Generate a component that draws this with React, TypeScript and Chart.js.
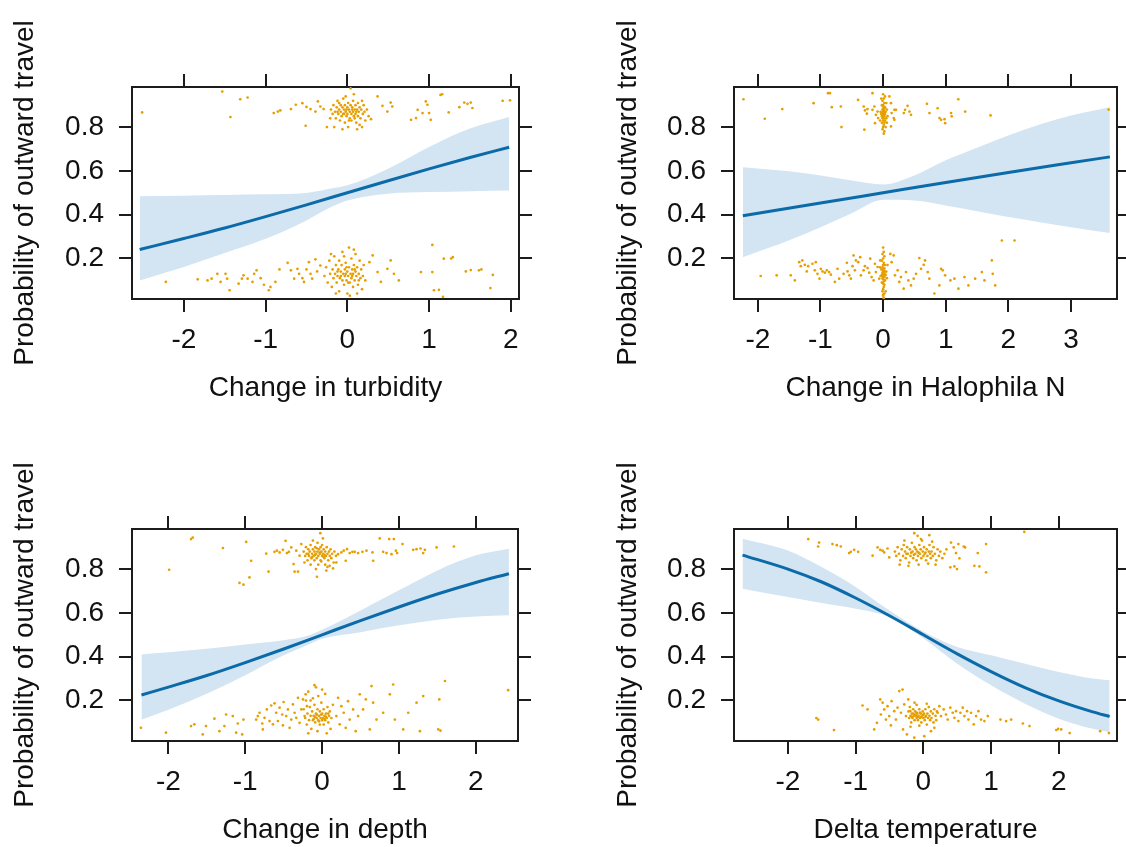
import { useEffect, useRef } from 'react';
import Chart from 'chart.js/auto';

type Pair = [number, number];

// ---------- shared response axis ----------
const Y_TITLE = 'Probability of outward travel';
const Y_TICKS = [0.2, 0.4, 0.6, 0.8];
const Y_MIN = 0.015;
const Y_MAX = 0.983;

// ---------- change in turbidity ----------
const TURB_LABEL = 'Change in turbidity';
const TURB_MIN = -2.634;
const TURB_MAX = 2.1;
const TURB_TICKS = [-2, -1, 0, 1, 2];
const TURB_FIT_X = [-2.54, -2, -1.5, -1, -0.5, 0, 0.5, 1, 1.5, 1.98];
const TURB_FIT_Y = [0.241, 0.291, 0.339, 0.391, 0.445, 0.5, 0.555, 0.609, 0.661, 0.708];
const TURB_BAND_X = [-2.54, -2, -1.5, -1, -0.5, -0.2, 0, 0.5, 1, 1.5, 1.98];
const TURB_BAND_HI = [0.484, 0.487, 0.49, 0.493, 0.499, 0.519, 0.534, 0.61, 0.709, 0.793, 0.846];
const TURB_BAND_LO = [0.1, 0.161, 0.225, 0.29, 0.374, 0.435, 0.465, 0.496, 0.503, 0.507, 0.51];
const TURB_OUT: Pair[] = [
  [-2.51, 0.867], [-1.53, 0.962], [-1.43, 0.846], [-1.31, 0.927], [-1.22, 0.935], [-0.9, 0.864], [-0.85, 0.871],
  [-0.82, 0.876], [-0.69, 0.882], [-0.63, 0.902], [-0.55, 0.909], [-0.51, 0.806], [-0.5, 0.892], [-0.45, 0.882],
  [-0.39, 0.871], [-0.36, 0.917], [-0.33, 0.894], [-0.29, 0.882], [-0.25, 0.8], [0.29, 0.836], [0.37, 0.94],
  [0.43, 0.897], [0.49, 0.871], [0.53, 0.912], [0.55, 0.894], [0.78, 0.833], [0.84, 0.841], [0.86, 0.879],
  [0.92, 0.864], [0.96, 0.917], [0.98, 0.902], [1.0, 0.864], [1.02, 0.833], [1.14, 0.947], [1.16, 0.95],
  [1.24, 0.867], [1.37, 0.891], [1.43, 0.912], [1.47, 0.906], [1.51, 0.912], [1.53, 0.887], [1.9, 0.92], [1.99, 0.922],
  [-0.2, 0.88], [-0.18, 0.86], [-0.17, 0.9], [-0.15, 0.87], [-0.14, 0.84], [-0.13, 0.89], [-0.12, 0.92], [-0.11, 0.86],
  [-0.1, 0.88], [-0.09, 0.83], [-0.08, 0.9], [-0.08, 0.87], [-0.07, 0.85], [-0.06, 0.89], [-0.05, 0.93], [-0.05, 0.86],
  [-0.04, 0.88], [-0.03, 0.82], [-0.03, 0.9], [-0.02, 0.87], [-0.01, 0.85], [0.0, 0.89], [0.0, 0.86], [0.01, 0.91],
  [0.01, 0.8], [0.02, 0.88], [0.03, 0.84], [0.03, 0.87], [0.04, 0.9], [0.04, 0.977], [0.05, 0.86], [0.05, 0.83],
  [0.06, 0.89], [0.07, 0.87], [0.07, 0.92], [0.08, 0.85], [0.09, 0.88], [0.1, 0.9], [0.1, 0.86], [0.11, 0.82],
  [0.12, 0.88], [0.13, 0.91], [0.13, 0.85], [0.14, 0.87], [0.15, 0.89], [0.16, 0.84], [0.17, 0.88], [0.18, 0.8],
  [0.19, 0.86], [0.2, 0.9], [0.21, 0.87], [0.22, 0.83], [0.24, 0.88], [0.26, 0.85], [-0.16, 0.8], [-0.06, 0.79],
  [0.12, 0.79], [0.15, 0.81], [-0.21, 0.84], [-0.02, 0.94], [0.08, 0.95], [-0.1, 0.91], [0.18, 0.92], [0.02, 0.83],
  [-0.12, 0.87], [0.06, 0.88], [-0.04, 0.86], [0.11, 0.87], [-0.01, 0.88], [0.09, 0.84],
];
const TURB_STAY: Pair[] = [
  [-2.22, 0.093], [-1.83, 0.105], [-1.71, 0.1], [-1.66, 0.108], [-1.59, 0.13], [-1.55, 0.093], [-1.49, 0.13],
  [-1.47, 0.108], [-1.44, 0.055], [-1.33, 0.085], [-1.29, 0.108], [-1.27, 0.123], [-1.22, 0.108], [-1.16, 0.093],
  [-1.14, 0.13], [-1.11, 0.146], [-1.06, 0.11], [-1.02, 0.08], [-0.96, 0.055], [-0.94, 0.07], [-0.88, 0.093],
  [-0.83, 0.15], [-0.73, 0.18], [-0.69, 0.146], [-0.65, 0.108], [-0.61, 0.153], [-0.59, 0.13], [-0.55, 0.11],
  [-0.53, 0.093], [-0.5, 0.15], [-0.47, 0.183], [-0.45, 0.13], [-0.43, 0.108], [-0.39, 0.196], [-0.37, 0.141],
  [-0.33, 0.168], [0.27, 0.183], [0.31, 0.214], [0.37, 0.138], [0.41, 0.093], [0.49, 0.153], [0.53, 0.191],
  [0.57, 0.13], [0.63, 0.1], [0.9, 0.138], [1.04, 0.262], [1.04, 0.138], [1.06, 0.055], [1.12, 0.057], [1.17, 0.025],
  [1.18, 0.199], [1.27, 0.2], [1.29, 0.206], [1.45, 0.141], [1.51, 0.147], [1.61, 0.146], [1.64, 0.15], [1.75, 0.065],
  [1.78, 0.125],
  [-0.28, 0.12], [-0.26, 0.16], [-0.24, 0.09], [-0.22, 0.19], [-0.21, 0.13], [-0.19, 0.07], [-0.18, 0.15], [-0.17, 0.11],
  [-0.16, 0.21], [-0.15, 0.13], [-0.14, 0.17], [-0.13, 0.09], [-0.12, 0.12], [-0.11, 0.15], [-0.1, 0.05], [-0.1, 0.19],
  [-0.09, 0.11], [-0.08, 0.14], [-0.07, 0.17], [-0.06, 0.1], [-0.06, 0.23], [-0.05, 0.13], [-0.04, 0.08], [-0.03, 0.15],
  [-0.03, 0.12], [-0.02, 0.18], [-0.01, 0.1], [0.0, 0.14], [0.0, 0.04], [0.01, 0.12], [0.02, 0.16], [0.02, 0.25],
  [0.03, 0.09], [0.04, 0.13], [0.05, 0.2], [0.05, 0.11], [0.06, 0.15], [0.07, 0.07], [0.07, 0.13], [0.08, 0.17],
  [0.09, 0.1], [0.1, 0.14], [0.1, 0.22], [0.11, 0.12], [0.12, 0.16], [0.13, 0.08], [0.14, 0.13], [0.15, 0.19],
  [0.16, 0.11], [0.17, 0.15], [0.18, 0.06], [0.19, 0.12], [0.2, 0.17], [0.22, 0.1], [-0.04, 0.21], [0.03, 0.03],
  [0.12, 0.04], [-0.14, 0.04], [0.08, 0.24], [-0.2, 0.22], [-0.01, 0.16], [0.06, 0.12], [-0.08, 0.12], [0.14, 0.1],
  [0.01, 0.09], [-0.12, 0.14], [0.09, 0.15], [-0.02, 0.13],
];

// ---------- change in Halophila N ----------
const HALO_LABEL = 'Change in Halophila N';
const HALO_MIN = -2.381;
const HALO_MAX = 3.734;
const HALO_TICKS = [-2, -1, 0, 1, 2, 3];
const HALO_FIT_X = [-2.24, -1, 0, 1, 2, 3, 3.62];
const HALO_FIT_Y = [0.395, 0.453, 0.5, 0.547, 0.593, 0.637, 0.664];
const HALO_BAND_X = [-2.24, -1.5, -1, -0.5, 0, 0.5, 1, 1.5, 2, 2.5, 3, 3.62];
const HALO_BAND_HI = [0.617, 0.598, 0.579, 0.556, 0.538, 0.579, 0.648, 0.706, 0.762, 0.812, 0.853, 0.891];
const HALO_BAND_LO = [0.206, 0.283, 0.343, 0.407, 0.468, 0.465, 0.442, 0.416, 0.389, 0.366, 0.343, 0.316];
const HALO_OUT: Pair[] = [
  [-2.23, 0.927], [-1.89, 0.838], [-1.61, 0.882], [-1.11, 0.909], [-0.88, 0.955], [-0.85, 0.955], [-0.82, 0.891],
  [-0.675, 0.894], [-0.665, 0.8], [-0.4, 0.924], [-0.31, 0.894], [-0.29, 0.876], [-0.26, 0.861], [-0.25, 0.882],
  [-0.3, 0.788], [-0.17, 0.879], [-0.14, 0.894], [-0.13, 0.818], [-0.115, 0.856], [-0.09, 0.871], [-0.08, 0.841],
  [-0.17, 0.955], [0.1, 0.94], [0.125, 0.909], [0.135, 0.864], [0.17, 0.841], [0.18, 0.879], [0.205, 0.879],
  [0.125, 0.803], [0.18, 0.833], [0.33, 0.864], [0.35, 0.879], [0.39, 0.897], [0.42, 0.871], [0.445, 0.856],
  [0.7, 0.906], [0.74, 0.864], [0.87, 0.886], [0.9, 0.841], [0.925, 0.833], [0.98, 0.836], [0.99, 0.818],
  [1.085, 0.864], [1.095, 0.849], [1.2, 0.927], [1.31, 0.871], [1.715, 0.853], [3.6, 0.88],
  [0.0, 0.95], [0.01, 0.93], [-0.01, 0.92], [0.02, 0.91], [0.0, 0.9], [-0.02, 0.9], [0.01, 0.89], [0.03, 0.89],
  [0.0, 0.88], [-0.01, 0.88], [0.02, 0.87], [0.04, 0.87], [0.0, 0.87], [-0.03, 0.86], [0.01, 0.86], [0.03, 0.86],
  [0.0, 0.85], [0.02, 0.85], [-0.02, 0.85], [0.01, 0.84], [0.05, 0.84], [-0.01, 0.84], [0.0, 0.83], [0.03, 0.83],
  [0.02, 0.82], [-0.02, 0.82], [0.01, 0.81], [0.0, 0.8], [0.04, 0.8], [-0.01, 0.79], [0.02, 0.78], [0.01, 0.77],
  [0.06, 0.88], [0.07, 0.85], [-0.04, 0.87], [0.05, 0.91], [-0.03, 0.93], [0.03, 0.94], [0.0, 0.86], [0.01, 0.875],
  [-0.01, 0.865], [0.02, 0.885], [0.0, 0.895], [0.06, 0.82], [-0.05, 0.83],
];
const HALO_STAY: Pair[] = [
  [-1.955, 0.12], [-1.7, 0.123], [-1.475, 0.123], [-1.41, 0.1], [-1.34, 0.183], [-1.315, 0.165], [-1.29, 0.191],
  [-1.25, 0.171], [-1.219, 0.141], [-1.197, 0.165], [-1.128, 0.176], [-1.091, 0.146], [-1.075, 0.183], [-1.048, 0.13],
  [-1.016, 0.108], [-0.995, 0.153], [-0.968, 0.141], [-0.931, 0.135], [-0.899, 0.146], [-0.862, 0.138], [-0.835, 0.126],
  [-0.771, 0.093], [-0.702, 0.108], [-0.728, 0.153], [-0.632, 0.13], [-0.579, 0.18], [-0.568, 0.141], [-0.541, 0.123],
  [-0.515, 0.108], [-0.488, 0.165], [-0.472, 0.214], [-0.451, 0.146], [-0.435, 0.191], [-0.398, 0.183], [-0.366, 0.206],
  [-0.355, 0.123], [-0.312, 0.146], [-0.291, 0.165], [-0.248, 0.156], [-0.222, 0.135], [-0.206, 0.199], [-0.184, 0.115],
  [-0.152, 0.1], [-0.131, 0.176], [-0.115, 0.138], [-0.088, 0.161], [-0.062, 0.108], [-0.046, 0.191],
  [0.114, 0.221], [0.136, 0.183], [0.168, 0.214], [0.189, 0.123], [0.232, 0.146], [0.258, 0.093], [0.285, 0.115],
  [0.328, 0.062], [0.365, 0.138], [0.403, 0.1], [0.445, 0.077], [0.488, 0.108], [0.525, 0.13], [0.578, 0.202],
  [0.605, 0.153], [0.648, 0.171], [0.669, 0.191], [0.712, 0.138], [0.738, 0.108], [0.818, 0.04], [0.898, 0.077],
  [0.925, 0.153], [0.952, 0.146], [0.989, 0.123], [1.074, 0.1], [1.138, 0.108], [1.202, 0.062], [1.298, 0.115],
  [1.362, 0.077], [1.469, 0.108], [1.576, 0.138], [1.618, 0.1], [1.736, 0.191], [1.75, 0.13], [1.789, 0.077],
  [1.896, 0.282], [2.098, 0.282],
  [0.0, 0.25], [0.01, 0.23], [-0.01, 0.22], [0.02, 0.21], [0.0, 0.2], [-0.02, 0.19], [0.01, 0.18], [0.03, 0.17],
  [0.0, 0.17], [-0.01, 0.16], [0.02, 0.155], [0.0, 0.15], [-0.03, 0.15], [0.01, 0.145], [0.03, 0.14], [0.0, 0.14],
  [-0.01, 0.135], [0.02, 0.13], [0.0, 0.13], [0.04, 0.125], [-0.02, 0.125], [0.01, 0.12], [0.0, 0.12], [0.02, 0.115],
  [-0.01, 0.11], [0.0, 0.105], [0.03, 0.1], [0.01, 0.095], [-0.02, 0.09], [0.0, 0.085], [0.02, 0.08], [0.01, 0.07],
  [0.0, 0.06], [-0.01, 0.05], [0.02, 0.04], [0.0, 0.03], [0.01, 0.02], [0.05, 0.14], [0.06, 0.11], [-0.04, 0.12],
  [-0.05, 0.16], [0.07, 0.17], [0.04, 0.05], [0.0, 0.035], [0.01, 0.13],
];

// ---------- change in depth ----------
const DEPTH_LABEL = 'Change in depth';
const DEPTH_MIN = -2.473;
const DEPTH_MAX = 2.548;
const DEPTH_TICKS = [-2, -1, 0, 1, 2];
const DEPTH_FIT_X = [-2.35, -2, -1.5, -1, -0.5, 0, 0.5, 1, 1.5, 2, 2.43];
const DEPTH_FIT_Y = [0.225, 0.261, 0.314, 0.373, 0.435, 0.5, 0.565, 0.627, 0.686, 0.739, 0.779];
const DEPTH_BAND_X = [-2.35, -2, -1.5, -1, -0.5, -0.2, 0, 0.5, 1, 1.5, 2, 2.43];
const DEPTH_BAND_HI = [0.41, 0.42, 0.436, 0.456, 0.475, 0.494, 0.523, 0.611, 0.703, 0.794, 0.863, 0.893];
const DEPTH_BAND_LO = [0.112, 0.158, 0.231, 0.315, 0.406, 0.452, 0.482, 0.512, 0.543, 0.569, 0.584, 0.589];
const DEPTH_OUT: Pair[] = [
  [-1.99, 0.797], [-1.705, 0.937], [-1.683, 0.944], [-1.29, 0.896], [-1.075, 0.737], [-1.023, 0.729], [-0.988, 0.924],
  [-0.945, 0.762], [-0.923, 0.838], [-0.727, 0.871], [-0.697, 0.788], [-0.619, 0.879], [-0.588, 0.884], [-0.553, 0.876],
  [-0.51, 0.888], [-0.475, 0.929], [-0.458, 0.873], [-0.432, 0.879], [-0.401, 0.899], [-0.371, 0.823], [-0.358, 0.788],
  [-0.336, 0.884], [-0.314, 0.788], [-0.293, 0.861], [-0.271, 0.914], [-0.023, 0.964], [-0.067, 0.765],
  [0.055, 0.793], [0.098, 0.815], [0.142, 0.803], [0.185, 0.83], [0.207, 0.868], [0.25, 0.876], [0.281, 0.884],
  [0.307, 0.838], [0.324, 0.891], [0.359, 0.873], [0.394, 0.879], [0.424, 0.879], [0.468, 0.873], [0.524, 0.879],
  [0.577, 0.884], [0.655, 0.876], [0.664, 0.838], [0.75, 0.94], [0.794, 0.879], [0.837, 0.873], [0.872, 0.937],
  [0.902, 0.868], [0.933, 0.937], [0.959, 0.884], [0.976, 0.873], [1.046, 0.914], [1.185, 0.888], [1.228, 0.891],
  [1.28, 0.894], [1.315, 0.873], [1.337, 0.888], [1.489, 0.899], [1.715, 0.903],
  [-0.24, 0.88], [-0.22, 0.86], [-0.21, 0.9], [-0.2, 0.87], [-0.19, 0.84], [-0.18, 0.89], [-0.17, 0.86], [-0.16, 0.88],
  [-0.15, 0.91], [-0.14, 0.85], [-0.13, 0.87], [-0.12, 0.89], [-0.11, 0.86], [-0.1, 0.88], [-0.1, 0.84], [-0.09, 0.9],
  [-0.08, 0.87], [-0.07, 0.85], [-0.06, 0.88], [-0.06, 0.92], [-0.05, 0.86], [-0.04, 0.89], [-0.03, 0.87], [-0.02, 0.84],
  [-0.02, 0.9], [-0.01, 0.88], [0.0, 0.86], [0.0, 0.91], [0.01, 0.87], [0.02, 0.89], [0.03, 0.85], [0.04, 0.88],
  [0.05, 0.86], [0.06, 0.9], [0.07, 0.87], [0.08, 0.84], [0.09, 0.88], [0.1, 0.86], [0.11, 0.89], [0.12, 0.85],
  [0.13, 0.87], [0.15, 0.83], [0.16, 0.88], [0.18, 0.86], [-0.23, 0.83], [-0.15, 0.82], [-0.05, 0.82], [0.04, 0.82],
  [-0.12, 0.93], [0.01, 0.94], [-0.08, 0.8], [0.07, 0.81], [-0.18, 0.87], [-0.09, 0.865], [-0.03, 0.875], [0.03, 0.865],
  [-0.13, 0.855], [-0.07, 0.895], [0.02, 0.855], [-0.01, 0.835],
];
const DEPTH_STAY: Pair[] = [
  [-2.357, 0.075], [-2.031, 0.053], [-1.705, 0.083], [-1.662, 0.091], [-1.553, 0.045], [-1.51, 0.083], [-1.401, 0.117],
  [-1.336, 0.06], [-1.271, 0.083], [-1.249, 0.136], [-1.162, 0.129], [-1.118, 0.053], [-1.097, 0.095], [-1.04, 0.045],
  [-1.023, 0.113], [-0.858, 0.113], [-0.836, 0.129], [-0.814, 0.144], [-0.779, 0.095], [-0.771, 0.068], [-0.749, 0.121],
  [-0.719, 0.159], [-0.684, 0.106], [-0.662, 0.177], [-0.64, 0.091], [-0.619, 0.187], [-0.597, 0.144], [-0.575, 0.106],
  [-0.553, 0.167], [-0.519, 0.136], [-0.51, 0.086], [-0.501, 0.193], [-0.467, 0.129], [-0.445, 0.159], [-0.423, 0.075],
  [-0.401, 0.113], [-0.38, 0.182], [-0.358, 0.144], [-0.336, 0.121], [-0.314, 0.212], [-0.293, 0.098], [-0.271, 0.159],
  [-0.249, 0.205], [-0.228, 0.129], [-0.214, 0.228], [-0.197, 0.174],
  [0.185, 0.129], [0.207, 0.212], [0.229, 0.091], [0.25, 0.174], [0.281, 0.144], [0.307, 0.075], [0.337, 0.197],
  [0.359, 0.113], [0.403, 0.159], [0.437, 0.06], [0.468, 0.129], [0.49, 0.228], [0.533, 0.159], [0.568, 0.205],
  [0.62, 0.068], [0.642, 0.266], [0.664, 0.19], [0.707, 0.113], [0.794, 0.144], [0.881, 0.228], [0.924, 0.273],
  [0.946, 0.113], [1.055, 0.068], [1.12, 0.144], [1.228, 0.19], [1.272, 0.06], [1.315, 0.22], [1.511, 0.068],
  [1.524, 0.205], [1.54, 0.062], [1.598, 0.289], [2.42, 0.247],
  [-0.24, 0.16], [-0.22, 0.12], [-0.21, 0.2], [-0.2, 0.09], [-0.19, 0.14], [-0.18, 0.24], [-0.17, 0.11], [-0.16, 0.17],
  [-0.15, 0.13], [-0.14, 0.07], [-0.13, 0.15], [-0.12, 0.11], [-0.12, 0.21], [-0.11, 0.13], [-0.1, 0.18], [-0.09, 0.1],
  [-0.08, 0.14], [-0.08, 0.26], [-0.07, 0.12], [-0.06, 0.16], [-0.05, 0.11], [-0.05, 0.22], [-0.04, 0.13], [-0.03, 0.09],
  [-0.03, 0.15], [-0.02, 0.12], [-0.01, 0.19], [0.0, 0.11], [0.0, 0.14], [0.01, 0.12], [0.02, 0.16], [0.02, 0.09],
  [0.03, 0.13], [0.04, 0.11], [0.04, 0.23], [0.05, 0.14], [0.06, 0.12], [0.07, 0.17], [0.08, 0.1], [0.09, 0.13],
  [0.1, 0.15], [0.11, 0.07], [0.12, 0.12], [0.14, 0.18], [-0.18, 0.05], [-0.06, 0.06], [0.06, 0.05], [-0.1, 0.27],
  [0.0, 0.25], [-0.15, 0.2], [-0.09, 0.125], [-0.04, 0.105], [0.03, 0.115], [-0.11, 0.115], [-0.01, 0.135], [0.05, 0.125],
  [-0.07, 0.135], [0.08, 0.14],
];

// ---------- delta temperature ----------
const TEMP_LABEL = 'Delta temperature';
const TEMP_MIN = -2.796;
const TEMP_MAX = 2.859;
const TEMP_TICKS = [-2, -1, 0, 1, 2];
const TEMP_FIT_X = [-2.67, -2, -1.5, -1, -0.5, 0, 0.5, 1, 1.5, 2, 2.5, 2.75];
const TEMP_FIT_Y = [0.864, 0.8, 0.741, 0.668, 0.587, 0.5, 0.413, 0.332, 0.259, 0.198, 0.148, 0.127];
const TEMP_BAND_X = [-2.67, -2, -1.5, -1, -0.5, 0, 0.5, 1, 1.5, 2, 2.5, 2.75];
const TEMP_BAND_HI = [0.939, 0.885, 0.809, 0.718, 0.611, 0.515, 0.444, 0.406, 0.368, 0.33, 0.3, 0.292];
const TEMP_BAND_LO = [0.71, 0.672, 0.645, 0.619, 0.581, 0.484, 0.368, 0.269, 0.185, 0.117, 0.071, 0.055];
const TEMP_OUT: Pair[] = [
  [-1.7, 0.937], [-1.554, 0.903], [-1.539, 0.921], [-1.342, 0.914], [-1.278, 0.909], [-1.219, 0.903], [-1.096, 0.873],
  [-1.071, 0.879], [-1.022, 0.888], [-0.963, 0.879], [-0.75, 0.861], [-0.676, 0.899], [-0.637, 0.888], [-0.603, 0.884],
  [-0.578, 0.876], [-0.529, 0.894], [-0.504, 0.853], [-0.134, 0.964], [-0.085, 0.952], [-0.035, 0.937], [0.088, 0.955],
  [0.408, 0.921], [0.448, 0.899], [0.482, 0.873], [0.517, 0.914], [0.532, 0.849], [0.596, 0.903], [0.616, 0.899],
  [0.753, 0.815], [0.803, 0.873], [0.827, 0.812], [0.926, 0.914], [0.926, 0.785], [0.398, 0.808], [0.458, 0.812],
  [0.497, 0.8], [1.49, 0.97],
  [-0.42, 0.88], [-0.4, 0.86], [-0.38, 0.9], [-0.36, 0.87], [-0.34, 0.84], [-0.32, 0.89], [-0.3, 0.86], [-0.29, 0.91],
  [-0.27, 0.88], [-0.26, 0.85], [-0.24, 0.9], [-0.23, 0.87], [-0.21, 0.83], [-0.2, 0.89], [-0.19, 0.86], [-0.17, 0.92],
  [-0.16, 0.88], [-0.15, 0.85], [-0.13, 0.9], [-0.12, 0.87], [-0.11, 0.89], [-0.1, 0.84], [-0.09, 0.88], [-0.08, 0.86],
  [-0.06, 0.91], [-0.05, 0.87], [-0.04, 0.89], [-0.03, 0.85], [-0.01, 0.88], [0.0, 0.86], [0.01, 0.9], [0.02, 0.87],
  [0.04, 0.84], [0.05, 0.89], [0.06, 0.86], [0.08, 0.88], [0.09, 0.91], [0.11, 0.85], [0.12, 0.88], [0.14, 0.86],
  [0.15, 0.9], [0.17, 0.87], [0.19, 0.84], [0.21, 0.89], [0.23, 0.86], [0.25, 0.88], [0.28, 0.85], [0.31, 0.87],
  [0.34, 0.89], [-0.35, 0.82], [-0.22, 0.815], [-0.07, 0.82], [0.07, 0.825], [0.18, 0.82], [-0.28, 0.93], [-0.02, 0.93],
  [0.13, 0.925], [-0.18, 0.875], [-0.07, 0.875], [0.03, 0.875], [-0.14, 0.865], [-0.25, 0.87], [0.1, 0.87],
];
const TEMP_STAY: Pair[] = [
  [-1.58, 0.12], [-1.554, 0.113], [-1.32, 0.065], [-0.898, 0.177], [-0.824, 0.159], [-0.726, 0.068], [-0.686, 0.098],
  [-0.637, 0.205], [-0.627, 0.136], [-0.602, 0.19], [-0.578, 0.159], [-0.553, 0.113], [-0.529, 0.174], [-0.504, 0.129],
  [-0.479, 0.086], [-0.469, 0.197], [-0.43, 0.151], [-0.405, 0.113], [-0.381, 0.167], [-0.356, 0.243], [-0.331, 0.144],
  [-0.307, 0.25], [-0.3, 0.068], [-0.282, 0.182], [-0.257, 0.129], [-0.243, 0.045], [-0.223, 0.205], [-0.193, 0.151],
  [0.211, 0.144], [0.236, 0.174], [0.26, 0.129], [0.3, 0.159], [0.334, 0.136], [0.359, 0.113], [0.398, 0.167],
  [0.433, 0.144], [0.458, 0.121], [0.482, 0.151], [0.517, 0.106], [0.547, 0.144], [0.581, 0.167], [0.606, 0.129],
  [0.645, 0.151], [0.665, 0.113], [0.704, 0.144], [0.744, 0.091], [0.778, 0.129], [0.813, 0.151], [0.852, 0.113],
  [0.901, 0.106], [0.951, 0.129], [1.138, 0.113], [1.222, 0.106], [1.296, 0.113], [1.469, 0.095], [1.567, 0.083],
  [1.962, 0.065], [1.99, 0.07], [2.036, 0.068], [2.16, 0.051], [2.61, 0.06], [2.74, 0.051], [0.112, 0.06],
  [0.162, 0.075], [0.014, 0.037], [-0.134, 0.03],
  [-0.22, 0.15], [-0.21, 0.12], [-0.2, 0.17], [-0.19, 0.13], [-0.18, 0.1], [-0.17, 0.14], [-0.16, 0.12], [-0.15, 0.16],
  [-0.14, 0.13], [-0.13, 0.11], [-0.12, 0.15], [-0.11, 0.13], [-0.1, 0.18], [-0.1, 0.12], [-0.09, 0.14], [-0.08, 0.11],
  [-0.07, 0.13], [-0.06, 0.16], [-0.05, 0.12], [-0.04, 0.14], [-0.03, 0.1], [-0.02, 0.13], [-0.01, 0.15], [0.0, 0.12],
  [0.01, 0.14], [0.02, 0.11], [0.03, 0.16], [0.04, 0.13], [0.05, 0.09], [0.06, 0.14], [0.07, 0.12], [0.08, 0.17],
  [0.09, 0.13], [0.1, 0.11], [0.11, 0.15], [0.12, 0.12], [0.14, 0.14], [0.15, 0.1], [0.16, 0.16], [0.18, 0.13],
  [0.19, 0.11], [0.2, 0.15], [-0.19, 0.08], [-0.06, 0.085], [0.05, 0.185], [-0.13, 0.19], [-0.17, 0.125], [-0.12, 0.135],
  [-0.08, 0.125], [-0.03, 0.125], [-0.15, 0.14], [-0.05, 0.145], [0.0, 0.135], [-0.1, 0.145], [0.03, 0.125],
];

// ---------- styling & layout ----------
const FAMILY = "'Liberation Sans', Arial, Helvetica, sans-serif";
const FONT_SIZE = 28;
const AXIS = '#1c1c1c';
const TEXT = '#111111';
const FIT_COLOR = '#0b6aa8';
const BAND_COLOR = '#d3e4f2';
const DOT_COLOR = '#e69f00';
const TICK_LEN = 13;
const AXIS_W = 2;

type Frame = { x: number; y: number; w: number; h: number };
type Box = { l: number; t: number; r: number; b: number };

interface PanelSpec {
  label: string;
  min: number;
  max: number;
  ticks: number[];
  fitX: number[];
  fitY: number[];
  bandX: number[];
  bandHi: number[];
  bandLo: number[];
  out: Pair[];
  stay: Pair[];
  frame: Frame;
  box: Box;
  xTitleY: number;
  yTitleX: number;
}

const PANELS: PanelSpec[] = [
  {
    label: TURB_LABEL, min: TURB_MIN, max: TURB_MAX, ticks: TURB_TICKS,
    fitX: TURB_FIT_X, fitY: TURB_FIT_Y, bandX: TURB_BAND_X, bandHi: TURB_BAND_HI, bandLo: TURB_BAND_LO,
    out: TURB_OUT, stay: TURB_STAY,
    frame: { x: 0, y: 0, w: 563, h: 424 }, box: { l: 132, t: 87, r: 519, b: 299 }, xTitleY: 388, yTitleX: 25,
  },
  {
    label: HALO_LABEL, min: HALO_MIN, max: HALO_MAX, ticks: HALO_TICKS,
    fitX: HALO_FIT_X, fitY: HALO_FIT_Y, bandX: HALO_BAND_X, bandHi: HALO_BAND_HI, bandLo: HALO_BAND_LO,
    out: HALO_OUT, stay: HALO_STAY,
    frame: { x: 563, y: 0, w: 563, h: 424 }, box: { l: 171, t: 87, r: 554, b: 299 }, xTitleY: 388, yTitleX: 65,
  },
  {
    label: DEPTH_LABEL, min: DEPTH_MIN, max: DEPTH_MAX, ticks: DEPTH_TICKS,
    fitX: DEPTH_FIT_X, fitY: DEPTH_FIT_Y, bandX: DEPTH_BAND_X, bandHi: DEPTH_BAND_HI, bandLo: DEPTH_BAND_LO,
    out: DEPTH_OUT, stay: DEPTH_STAY,
    frame: { x: 0, y: 424, w: 563, h: 423 }, box: { l: 132, t: 105, r: 518, b: 317 }, xTitleY: 406, yTitleX: 25,
  },
  {
    label: TEMP_LABEL, min: TEMP_MIN, max: TEMP_MAX, ticks: TEMP_TICKS,
    fitX: TEMP_FIT_X, fitY: TEMP_FIT_Y, bandX: TEMP_BAND_X, bandHi: TEMP_BAND_HI, bandLo: TEMP_BAND_LO,
    out: TEMP_OUT, stay: TEMP_STAY,
    frame: { x: 563, y: 424, w: 563, h: 423 }, box: { l: 171, t: 105, r: 554, b: 317 }, xTitleY: 406, yTitleX: 65,
  },
];

function EffectPanel({ spec }: { spec: PanelSpec }) {
  const ref = useRef<HTMLCanvasElement | null>(null);

  useEffect(() => {
    const canvas = ref.current;
    if (!canvas) return;
    const { frame, box } = spec;
    const rightW = Math.min(TICK_LEN, frame.w - box.r);
    const xy = (xs: number[], ys: number[]) => xs.map((x, i) => ({ x, y: ys[i] }));
    const fromPairs = (list: Pair[]) => list.map(([x, y]) => ({ x, y }));
    const font = { family: FAMILY, size: FONT_SIZE, lineHeight: 1 };
    const grid = {
      drawOnChartArea: false, drawTicks: true, tickLength: TICK_LEN,
      color: AXIS, lineWidth: AXIS_W, tickColor: AXIS, tickWidth: AXIS_W,
    };
    const border = { display: true, color: AXIS, width: AXIS_W };
    const setXTicks = (s: any) => { s.ticks = spec.ticks.map((v) => ({ value: v })); };
    const setYTicks = (s: any) => { s.ticks = Y_TICKS.map((v) => ({ value: v })); };
    const noLine = 'rgba(0,0,0,0)';

    const chart = new Chart(canvas, {
      type: 'line',
      data: {
        datasets: [
          {
            type: 'line', data: xy(spec.fitX, spec.fitY), borderColor: FIT_COLOR, borderWidth: 3,
            pointRadius: 0, fill: false, cubicInterpolationMode: 'monotone',
          },
          {
            type: 'scatter', data: [...fromPairs(spec.out), ...fromPairs(spec.stay)],
            backgroundColor: DOT_COLOR, borderColor: DOT_COLOR, borderWidth: 0, pointRadius: 1.35,
          },
          {
            type: 'line', data: xy(spec.bandX, spec.bandHi), borderColor: noLine, borderWidth: 0,
            pointRadius: 0, fill: '+1', backgroundColor: BAND_COLOR, cubicInterpolationMode: 'monotone',
          },
          {
            type: 'line', data: xy(spec.bandX, spec.bandLo), borderColor: noLine, borderWidth: 0,
            pointRadius: 0, fill: false, cubicInterpolationMode: 'monotone',
          },
        ] as any,
      },
      options: {
        animation: false,
        responsive: false,
        events: [],
        layout: {
          autoPadding: false,
          padding: { left: 0, top: box.t - TICK_LEN, right: frame.w - box.r - rightW, bottom: 0 },
        },
        plugins: { legend: { display: false }, tooltip: { enabled: false } },
        scales: {
          x: {
            type: 'linear', position: 'bottom', min: spec.min, max: spec.max,
            afterBuildTicks: setXTicks,
            afterFit: (s: any) => { s.height = frame.h - box.b; },
            ticks: { font, color: TEXT, padding: 14, maxRotation: 0, autoSkip: false, callback: (v: any) => String(v) },
            grid, border,
            title: {
              display: true, text: spec.label, font, color: TEXT,
              padding: { top: 0, bottom: frame.h - spec.xTitleY - FONT_SIZE / 2 },
            },
          },
          x2: {
            type: 'linear', position: 'top', min: spec.min, max: spec.max,
            afterBuildTicks: setXTicks,
            afterFit: (s: any) => { s.height = TICK_LEN; },
            ticks: { display: false }, grid, border,
          },
          y: {
            type: 'linear', position: 'left', min: Y_MIN, max: Y_MAX,
            afterBuildTicks: setYTicks,
            afterFit: (s: any) => { s.width = box.l; },
            ticks: { font, color: TEXT, padding: 15, autoSkip: false, callback: (v: any) => String(v) },
            grid, border,
            title: {
              display: true, text: Y_TITLE, font, color: TEXT,
              padding: { top: spec.yTitleX - FONT_SIZE / 2, bottom: 0 },
            },
          },
          y2: {
            type: 'linear', position: 'right', min: Y_MIN, max: Y_MAX,
            afterBuildTicks: setYTicks,
            afterFit: (s: any) => { s.width = rightW; },
            ticks: { display: false }, grid, border,
          },
        },
      } as any,
    });
    return () => chart.destroy();
  }, [spec]);

  const { frame } = spec;
  return (
    <canvas
      ref={ref}
      width={frame.w}
      height={frame.h}
      style={{ position: 'absolute', left: frame.x, top: frame.y, width: frame.w, height: frame.h }}
    />
  );
}

export default function App() {
  return (
    <div style={{ position: 'fixed', left: 0, top: 0, width: 1126, height: 847, background: '#ffffff', overflow: 'hidden' }}>
      {PANELS.map((p) => (
        <EffectPanel key={p.label} spec={p} />
      ))}
    </div>
  );
}
